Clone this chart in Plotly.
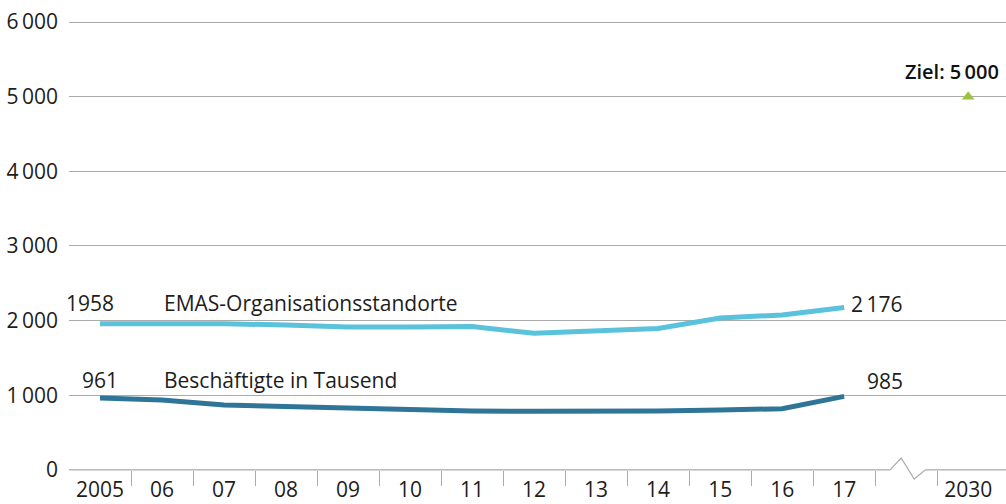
import plotly.graph_objects as go

# ---- data ----
years = ["2005", "06", "07", "08", "09", "10", "11", "12", "13", "14", "15", "16", "17"]
target_label = "2030"
emas_sites = [1958, 1958, 1958, 1940, 1915, 1915, 1920, 1830, 1862, 1895, 2035, 2075, 2176]
employees_thousand = [961, 937, 870, 850, 826, 805, 788, 785, 785, 788, 803, 818, 985]
target_value = 5000
y_ticks = [0, 1000, 2000, 3000, 4000, 5000, 6000]
y_ticktext = ["0", "1\u2009000", "2\u2009000", "3\u2009000", "4\u2009000", "5\u2009000", "6\u2009000"]

FONT = "Open Sans"
FS = 21
TXT = "#1d1d1b"
GRID = "#ababab"
C_EMAS = "#5bc2dc"
C_EMP = "#2f7598"
C_TARGET = "#9dc23b"

x_years = list(range(len(years)))
x_target = len(years) + 1  # one gap slot for the axis break
tickvals = x_years + [x_target]
ticktext = years + [target_label]

fig = go.Figure()
fig.add_trace(go.Scatter(x=x_years, y=emas_sites, mode="lines",
                         line=dict(color=C_EMAS, width=5), hoverinfo="skip"))
fig.add_trace(go.Scatter(x=x_years, y=employees_thousand, mode="lines",
                         line=dict(color=C_EMP, width=5), hoverinfo="skip"))
fig.add_trace(go.Scatter(x=[x_target], y=[target_value], mode="markers",
                         marker=dict(symbol="triangle-up", size=11, color=C_TARGET),
                         hoverinfo="skip"))

font = dict(family=FONT, size=FS, color=TXT)
ann = []
last = len(years) - 1
ann.append(dict(x=-0.16, y=2236, text=f"{emas_sites[0]}", xanchor="center", yanchor="middle"))
ann.append(dict(x=1.0, y=2236, text="EMAS-Organisationsstandorte", xanchor="left", yanchor="middle"))
ann.append(dict(x=0.0, y=1205, text=f"{employees_thousand[0]}", xanchor="center", yanchor="middle"))
ann.append(dict(x=1.0, y=1205, text="Beschäftigte in Tausend", xanchor="left", yanchor="middle"))
ann.append(dict(x=12.98, y=2223, text=f"{emas_sites[last] // 1000}\u2009{emas_sites[last] % 1000:03d}",
                xanchor="right", yanchor="middle"))
ann.append(dict(x=12.98, y=1185, text=f"{employees_thousand[last]}", xanchor="right", yanchor="middle"))
for a in ann:
    a.update(xref="x", yref="y", showarrow=False, font=font)
fig.add_annotation(x=14.53, y=target_value, xref="x", yref="y", showarrow=False,
                   text=f"Ziel: {target_value // 1000}\u2009{target_value % 1000:03d}",
                   xanchor="right", yanchor="bottom", yshift=10,
                   font=dict(family=FONT, size=FS - 1, color="#111", weight=600))
for a in ann:
    fig.add_annotation(**a)

# baseline with axis-break zigzag
fig.add_shape(type="path", xref="x", yref="paper",
              path="M-0.5,0.0003 L12.74,0.0003 L12.92,0.0261 L13.13,-0.0196 L13.31,0.0003 L14.61,0.0003",
              line=dict(color=GRID, width=1.2), layer="above")

fig.update_layout(
    width=1006, height=504,
    margin=dict(l=69, r=0, t=10, b=34),
    paper_bgcolor="white", plot_bgcolor="white",
    showlegend=False,
    font=font,
)
fig.update_xaxes(
    range=[-0.5, 14.61], tickmode="array", tickvals=tickvals, ticktext=ticktext,
    showgrid=False, zeroline=False, showline=False, ticks="",
    ticklabelstandoff=5,
    tickfont=font,
    minor=dict(tickmode="array", tickvals=[i + 0.5 for i in range(len(years))] + [x_target - 0.5],
               ticks="outside", ticklen=15, tickcolor=GRID, tickwidth=1.2, showgrid=False),
)
fig.update_yaxes(
    range=[-2, 6160.7], tickmode="array", tickvals=y_ticks, ticktext=y_ticktext,
    showgrid=True, gridcolor=GRID, gridwidth=1, zeroline=False, showline=False, ticks="",
    ticklabelstandoff=10, tickfont=font,
)

fig.write_html("out.html", config={"displayModeBar": False},
               post_script="document.body.style.margin='0';document.body.style.overflow='hidden';")
